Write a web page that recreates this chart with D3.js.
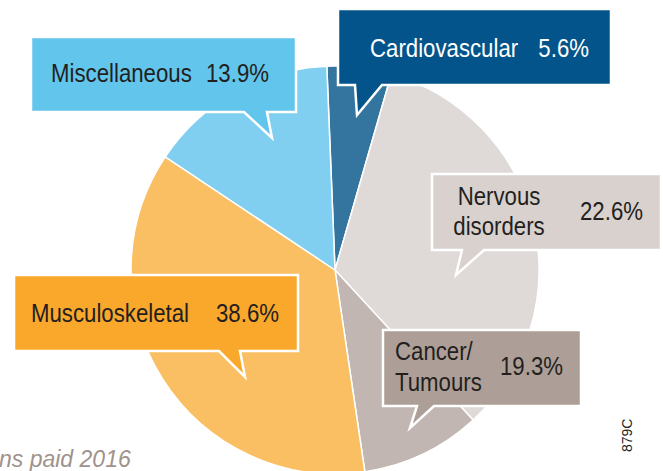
<!DOCTYPE html>
<html>
<head>
<meta charset="utf-8">
<script src="https://cdn.jsdelivr.net/npm/d3@7"></script>
<style>
  html, body { margin: 0; padding: 0; background: #ffffff; overflow: hidden; }
  svg { display: block; }
  .lbl { font-family: "Liberation Sans", Arial, sans-serif; }
</style>
</head>
<body>
<div id="chart"></div>
<script>
// chart values
var categories = ["Cardiovascular", "Nervous disorders", "Cancer/Tumours", "Musculoskeletal", "Miscellaneous"];
var percentLabels = [5.6, 22.6, 19.3, 38.6, 13.9];
// slice sizes as they are drawn in the picture (the artwork is not to scale)
var drawnShare = [5.1, 33.7, 9.5, 36.7, 15.0];
var nameLines = [["Cardiovascular"], ["Nervous", "disorders"], ["Cancer/", "Tumours"], ["Musculoskeletal"], ["Miscellaneous"]];

var sliceColors = ["#34759f", "#dfdad8", "#c1b6b1", "#f9bf62", "#81cff0"];
var boxColors = ["#03548a", "#d8d1ce", "#ad9f97", "#faa82c", "#62c5ec"];
var textColors = ["#ffffff", "#231f20", "#231f20", "#231f20", "#231f20"];

var width = 663, height = 471;
var cx = 335, cy = 270, radius = 204;
var startDeg = -2.3;
var fontSize = 26;
var narrow = 0.855;   // condensed look, no narrow face installed

// callout layout: box, tail (left x, right x, tip x, tip y), name and percent positions
var callouts = [
  {x: 338, y: 9,   w: 273, h: 76, tail: [355, 382, 357, 115],
   name: {x: 370, y: 57, anchor: "start", dy: 0}, pct: {x: 589, y: 57, anchor: "end"}},
  {x: 432, y: 174, w: 229, h: 76, tail: [462, 484, 456, 275],
   name: {x: 499, y: 205, anchor: "middle", dy: 30}, pct: {x: 643, y: 220, anchor: "end"}},
  {x: 383, y: 330, w: 198, h: 76, tail: [417, 434, 410, 428],
   name: {x: 395, y: 360, anchor: "start", dy: 31}, pct: {x: 563, y: 375, anchor: "end"}},
  {x: 14,  y: 275, w: 284, h: 76, tail: [219, 240, 245, 377],
   name: {x: 31, y: 322, anchor: "start", dy: 0}, pct: {x: 279, y: 322, anchor: "end"}},
  {x: 31,  y: 37,  w: 265, h: 75, tail: [244, 267, 272, 138],
   name: {x: 51, y: 82, anchor: "start", dy: 0}, pct: {x: 269, y: 82, anchor: "end"}}
];

var svg = d3.select("#chart")
            .append("svg")
            .attr("width", width)
            .attr("height", height);

var pie = d3.pie()
            .sort(null)
            .value(function(d){ return d; })
            .startAngle(startDeg * Math.PI / 180)
            .endAngle(startDeg * Math.PI / 180 + 2 * Math.PI);

var arc = d3.arc()
            .innerRadius(0)
            .outerRadius(radius);

svg.append("g")
   .attr("class", "slices")
   .attr("transform", "translate(" + cx + "," + cy + ")")
   .selectAll("path")
   .data(pie(drawnShare))
   .enter()
   .append("path")
   .attr("d", arc)
   .attr("fill", function(d, i){ return sliceColors[i]; })
   .attr("stroke", "#ffffff")
   .attr("stroke-width", 1.5)
   .attr("stroke-linejoin", "round");

function calloutPath(c){
  var p = d3.path();
  p.moveTo(c.x, c.y);
  p.lineTo(c.x + c.w, c.y);
  p.lineTo(c.x + c.w, c.y + c.h);
  p.lineTo(c.tail[1], c.y + c.h);
  p.lineTo(c.tail[2], c.tail[3]);
  p.lineTo(c.tail[0], c.y + c.h);
  p.lineTo(c.x, c.y + c.h);
  p.closePath();
  return p.toString();
}

var boxes = svg.append("g")
               .attr("class", "callouts")
               .selectAll("g")
               .data(categories)
               .enter()
               .append("g");

boxes.append("path")
     .attr("d", function(d, i){ return calloutPath(callouts[i]); })
     .attr("fill", function(d, i){ return boxColors[i]; })
     .attr("stroke", "#ffffff")
     .attr("stroke-width", 2.5)
     .attr("stroke-linejoin", "miter");

boxes.append("text")
     .attr("class", "lbl")
     .attr("transform", function(d, i){
       return "translate(" + callouts[i].name.x + "," + callouts[i].name.y + ") scale(" + narrow + ",1)";
     })
     .attr("text-anchor", function(d, i){ return callouts[i].name.anchor; })
     .attr("font-size", fontSize)
     .attr("fill", function(d, i){ return textColors[i]; })
     .each(function(d, i){
       var t = d3.select(this);
       nameLines[i].forEach(function(line, j){
         t.append("tspan")
          .attr("x", 0)
          .attr("dy", j === 0 ? 0 : callouts[i].name.dy)
          .text(line);
       });
     });

boxes.append("text")
     .attr("class", "lbl")
     .attr("transform", function(d, i){
       return "translate(" + callouts[i].pct.x + "," + callouts[i].pct.y + ") scale(" + narrow + ",1)";
     })
     .attr("text-anchor", function(d, i){ return callouts[i].pct.anchor; })
     .attr("font-size", fontSize)
     .attr("fill", function(d, i){ return textColors[i]; })
     .text(function(d, i){ return percentLabels[i].toFixed(1) + "%"; });

// footnote, cut off at the left edge as in the source
svg.append("text")
   .attr("x", -1)
   .attr("y", 467)
   .attr("font-family", "Liberation Sans, Arial, sans-serif")
   .attr("font-style", "italic")
   .attr("font-size", 23)
   .attr("fill", "#a0928b")
   .text("ns paid 2016");

svg.append("text")
   .attr("transform", "translate(632,452) rotate(-90)")
   .attr("font-family", "Liberation Sans, Arial, sans-serif")
   .attr("font-size", 14)
   .attr("fill", "#231f20")
   .text("879C");
</script>
</body>
</html>
